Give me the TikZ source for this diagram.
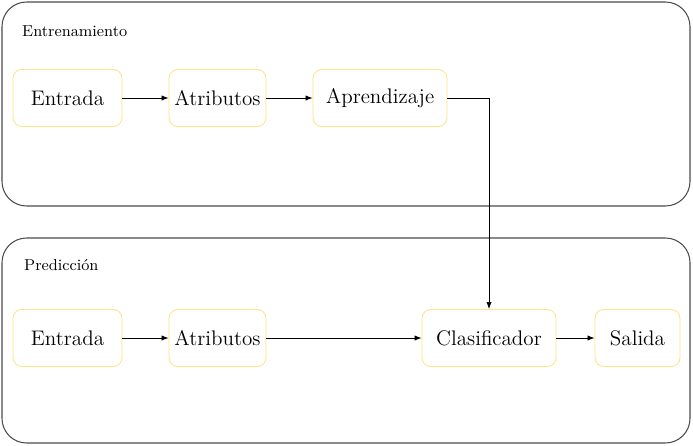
\documentclass[tikz,border=0pt]{standalone}
\usetikzlibrary{positioning,arrows.meta,calc}
\begin{document}
\begin{tikzpicture}[x=0.02cm,y=-0.02cm,
  panel/.style={draw=black!70,rounded corners=14pt,line width=0.6pt},
  block/.style={draw=yellow!60!orange!45,rounded corners=5pt,line width=0.5pt,minimum height=1.14cm,inner sep=0,font=\fontsize{12}{14}\selectfont},
  link/.style={-{Latex[length=4pt,width=3pt]},line width=0.4pt}
]
  \useasboundingbox (0,0) rectangle (693,446);
  % panels
  \draw[panel] (2,2) rectangle (690,206);
  \draw[panel] (2,238) rectangle (690,443);
  \node[anchor=west,font=\fontsize{9}{11}\selectfont] (train) at (16,31) {Entrenamiento};
  \node[anchor=west,font=\fontsize{9}{11}\selectfont] (pred) at (18,265) {Predicción};
  % training
  \node[block,minimum width=2.18cm] (in1) at (67.5,98) {Entrada};
  \node[block,minimum width=1.94cm] (at1) at (217.5,98) {Atributos};
  \node[block,minimum width=2.68cm] (ap1) at (380,98) {Aprendizaje};
  % prediction
  \node[block,minimum width=2.18cm] (in2) at (67.5,338) {Entrada};
  \node[block,minimum width=1.94cm] (at2) at (217.5,338) {Atributos};
  \node[block,minimum width=2.68cm] (cl2) at (489,338) {Clasificador};
  \node[block,minimum width=1.7cm] (sa2) at (637.5,338) {Salida};
  \draw[link] (in1) -- (at1);
  \draw[link] (at1) -- (ap1);
  \draw[link] (in2) -- (at2);
  \draw[link] (at2) -- (cl2);
  \draw[link] (cl2) -- (sa2);
  \draw[link] (ap1.east) -| (cl2.north);
\end{tikzpicture}
\end{document}
